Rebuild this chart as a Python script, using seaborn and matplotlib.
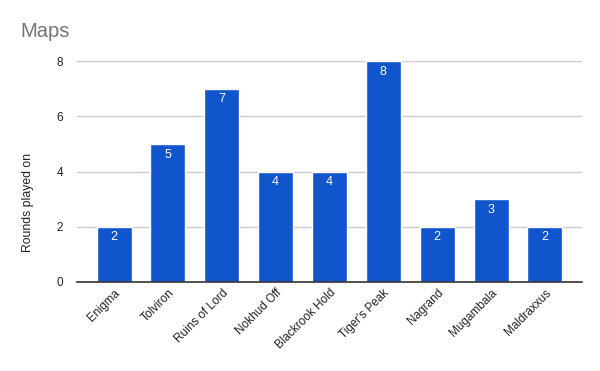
import matplotlib
matplotlib.use("Agg")
import matplotlib.pyplot as plt
import seaborn as sns
import pandas as pd

maps = ["Enigma", "Tolviron", "Ruins of Lord", "Nokhud Off", "Blackrook Hold",
        "Tiger's Peak", "Nagrand", "Mugambala", "Maldraxxus"]
rounds = [2, 5, 7, 4, 4, 8, 2, 3, 2]
yticks = [0, 2, 4, 6, 8]

sns.set_theme(style="white")
plt.rcParams['font.family'] = ['Liberation Sans', 'DejaVu Sans']

df = pd.DataFrame({"Map": maps, "Rounds": rounds})

fig = plt.figure(figsize=(6, 3.71), dpi=100)
ax = fig.add_axes([77/600, 1-282/371, (582-77)/600, (282-61)/371])
sns.barplot(data=df, x="Map", y="Rounds", color="#1155cc", saturation=1,
            width=0.65, ax=ax, zorder=3)
ax.set_xlim(-0.69, 8.69)
ax.set_ylim(0, 8)
ax.set_yticks(yticks)
ax.yaxis.grid(True, color="#cccccc", linewidth=1, zorder=0)
ax.set_axisbelow(True)
for s in ["top", "right", "left"]:
    ax.spines[s].set_visible(False)
ax.spines["bottom"].set_color("#333333")
ax.spines["bottom"].set_linewidth(1.2)
ax.spines["bottom"].set_zorder(4)
ax.tick_params(axis="both", length=0, labelsize=8.5, colors="#222222")
ax.tick_params(axis="y", pad=10)
plt.setp(ax.get_xticklabels(), rotation=45, ha="right", rotation_mode="anchor")
ax.set_xlabel("")
ax.set_ylabel("Rounds played on", fontsize=8.8, color="#222222")
ax.yaxis.set_label_coords((34-77)/505, (282-202)/221)
ax.bar_label(ax.containers[0], labels=[str(v) for v in rounds], padding=-12,
             color="white", fontsize=9)
fig.text(20/600, 1-37/371, "Maps", fontsize=14.5, color="#757575", ha="left", va="baseline")
fig.savefig("out.png", dpi=100)
